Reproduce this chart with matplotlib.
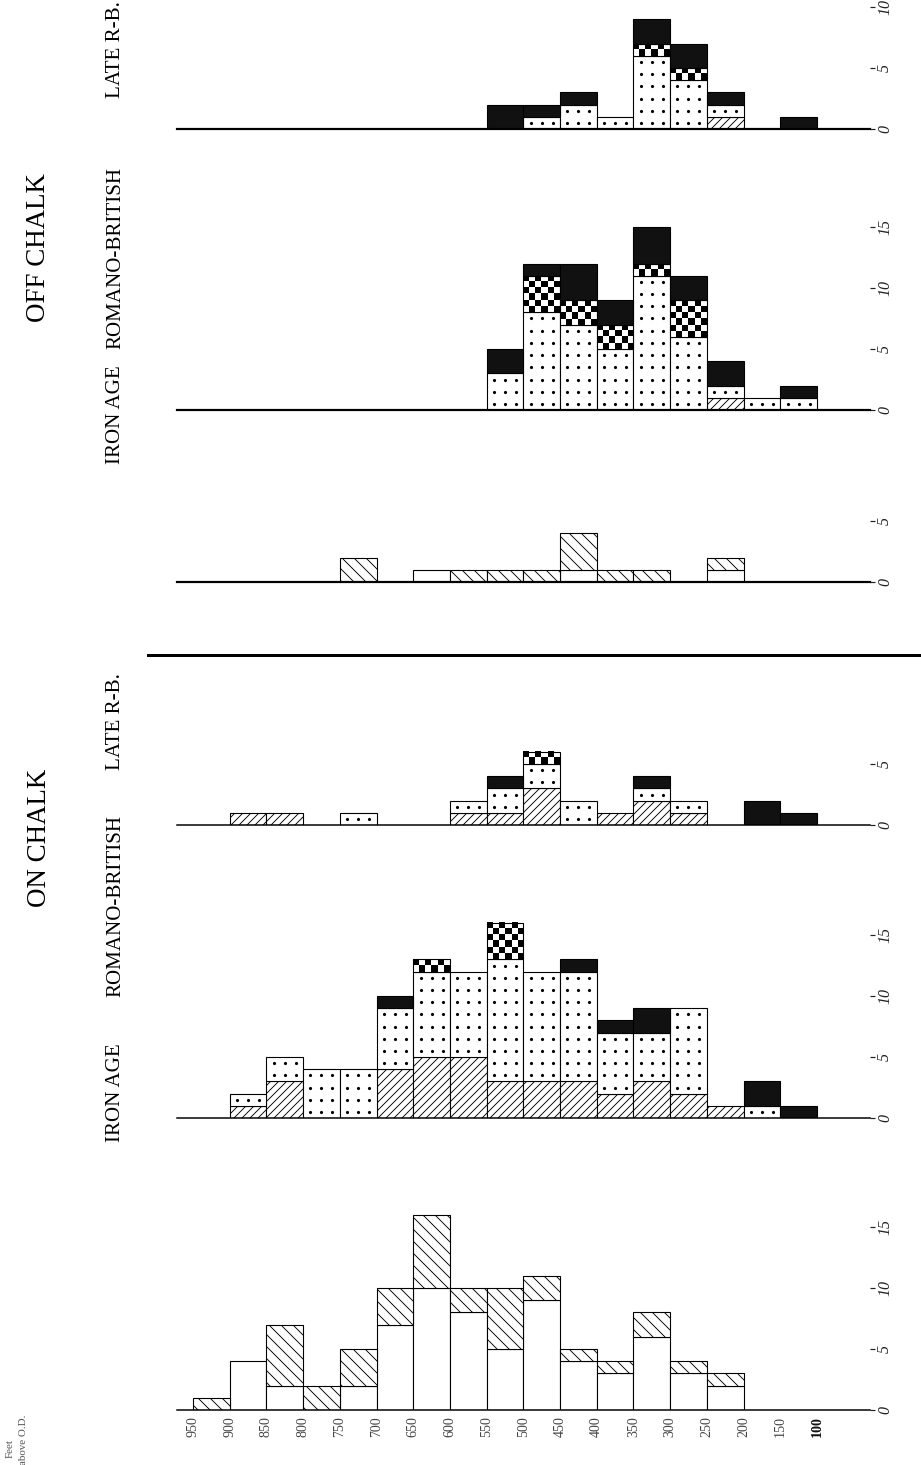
import numpy as np
import matplotlib
matplotlib.use("Agg")
import matplotlib.pyplot as plt
from matplotlib.lines import Line2D

plt.rcParams['font.family'] = ['Liberation Serif', 'DejaVu Serif']
plt.rcParams['hatch.linewidth'] = 0.9

# elevation bin edges (feet above O.D.), 17 bins 950-900 ... 150-100
feet = ['950', '900', '850', '800', '750', '700', '650', '600', '550',
        '500', '450', '400', '350', '300', '250', '200', '150', '100']

# ON CHALK
on_ia_plain = [0, 4, 2, 0, 2, 7, 10, 8, 5, 9, 4, 3, 6, 3, 2, 0, 0]
on_ia_hatch = [1, 0, 5, 2, 3, 3, 6, 2, 5, 2, 1, 1, 2, 1, 1, 0, 0]

on_rb_hatch = [0, 1, 3, 0, 0, 4, 5, 5, 3, 3, 3, 2, 3, 2, 1, 0, 0]
on_rb_dot = [0, 1, 2, 4, 4, 5, 7, 7, 10, 9, 9, 5, 4, 7, 0, 1, 0]
on_rb_check = [0, 0, 0, 0, 0, 0, 1, 0, 3, 0, 0, 0, 0, 0, 0, 0, 0]
on_rb_black = [0, 0, 0, 0, 0, 1, 0, 0, 0, 0, 1, 1, 2, 0, 0, 2, 1]

on_late_hatch = [0, 1, 1, 0, 0, 0, 0, 1, 1, 3, 0, 1, 2, 1, 0, 0, 0]
on_late_dot = [0, 0, 0, 0, 1, 0, 0, 1, 2, 2, 2, 0, 1, 1, 0, 0, 0]
on_late_check = [0, 0, 0, 0, 0, 0, 0, 0, 0, 1, 0, 0, 0, 0, 0, 0, 0]
on_late_black = [0, 0, 0, 0, 0, 0, 0, 0, 1, 0, 0, 0, 1, 0, 0, 2, 1]

# OFF CHALK
off_ia_plain = [0, 0, 0, 0, 0, 0, 1, 0, 0, 0, 1, 0, 0, 0, 1, 0, 0]
off_ia_hatch = [0, 0, 0, 0, 2, 0, 0, 1, 1, 1, 3, 1, 1, 0, 1, 0, 0]

off_rb_hatch = [0, 0, 0, 0, 0, 0, 0, 0, 0, 0, 0, 0, 0, 0, 1, 0, 0]
off_rb_dot = [0, 0, 0, 0, 0, 0, 0, 0, 3, 8, 7, 5, 11, 6, 1, 1, 1]
off_rb_check = [0, 0, 0, 0, 0, 0, 0, 0, 0, 3, 2, 2, 1, 3, 0, 0, 0]
off_rb_black = [0, 0, 0, 0, 0, 0, 0, 0, 2, 1, 3, 2, 3, 2, 2, 0, 1]

off_late_hatch = [0, 0, 0, 0, 0, 0, 0, 0, 0, 0, 0, 0, 0, 0, 1, 0, 0]
off_late_dot = [0, 0, 0, 0, 0, 0, 0, 0, 0, 1, 2, 1, 6, 4, 1, 0, 0]
off_late_check = [0, 0, 0, 0, 0, 0, 0, 0, 0, 0, 0, 0, 1, 1, 0, 0, 0]
off_late_black = [0, 0, 0, 0, 0, 0, 0, 0, 2, 1, 1, 0, 2, 2, 1, 0, 1]

W, H = 921, 1465
DPI = 72
fig = plt.figure(figsize=(W / DPI, H / DPI), dpi=DPI)
fig.patch.set_facecolor('white')

PX = 12.2          # pixels per site
X0, X1 = 177, 870  # baseline extent in pixels
BIN0, BINW = 193, 36.7


def add_panel(base, ymax, ticks, lw=1.5):
    ax = fig.add_axes([X0 / W, (H - base) / H, (X1 - X0) / W, ymax * PX / H])
    ax.patch.set_visible(False)
    for s in ['left', 'right', 'top']:
        ax.spines[s].set_visible(False)
    ax.spines['bottom'].set_linewidth(lw)
    ax.set_xticks([])
    ax.yaxis.tick_right()
    ax.set_yticks(ticks)
    ax.set_yticklabels([str(t) for t in ticks], rotation=90, fontstyle='italic',
                       fontsize=16, va='center')
    ax.tick_params(axis='y', length=5, width=1.2, pad=2, colors='#222')
    ax.set_ylim(0, ymax)
    ax.set_xlim((X0 - BIN0) / BINW, (X1 - BIN0) / BINW)
    return ax


def draw_stack(ax, layers):
    bottom = np.zeros(17)
    for kind, vals in layers:
        vals = np.array(vals, dtype=float)
        idx = np.nonzero(vals)[0]
        b = bottom[idx]
        h = vals[idx]
        if kind == 'plain':
            ax.bar(idx, h, bottom=b, width=1, align='edge', color='white',
                   edgecolor='black', linewidth=1.1, zorder=2)
        elif kind == 'back':
            ax.bar(idx, h, bottom=b, width=1, align='edge', color='white',
                   edgecolor='black', linewidth=1.1, hatch='\\\\', zorder=2)
        elif kind == 'fwd':
            ax.bar(idx, h, bottom=b, width=1, align='edge', color='white',
                   edgecolor='black', linewidth=1.1, hatch='///', zorder=2)
        elif kind == 'dot':
            ax.bar(idx, h, bottom=b, width=1, align='edge', color='white',
                   edgecolor='black', linewidth=1.1, zorder=2)
            xs, ys = [], []
            for i, bb, hh in zip(idx, b, h):
                for k in range(int(hh)):
                    for f in (0.2, 0.5, 0.8):
                        xs.append(i + f)
                        ys.append(bb + k + 0.5)
            ax.scatter(xs, ys, s=10, color='black', linewidths=0, zorder=3)
        elif kind == 'check':
            for i, bb, hh in zip(idx, b, h):
                rows, cols = int(hh * 2), 6
                board = (np.add.outer(np.arange(rows), np.arange(cols)) % 2)
                ax.imshow(board, cmap='gray', interpolation='nearest', aspect='auto',
                          extent=(i, i + 1, bb, bb + hh), zorder=2)
            ax.bar(idx, h, bottom=b, width=1, align='edge', color='none',
                   edgecolor='black', linewidth=1.1, zorder=3)
        elif kind == 'black':
            ax.bar(idx, h, bottom=b, width=1, align='edge', color='#111',
                   edgecolor='black', linewidth=1.1, zorder=2)
        bottom = bottom + vals


# panels: baseline pixel, y max, ticks
ax_off_late = add_panel(129, 10.5, [0, 5, 10], lw=2.2)
draw_stack(ax_off_late, [('fwd', off_late_hatch), ('dot', off_late_dot),
                         ('check', off_late_check), ('black', off_late_black)])

ax_off_rb = add_panel(410, 16.5, [0, 5, 10, 15], lw=2.2)
draw_stack(ax_off_rb, [('fwd', off_rb_hatch), ('dot', off_rb_dot),
                       ('check', off_rb_check), ('black', off_rb_black)])

ax_off_ia = add_panel(582, 6.5, [0, 5], lw=2.2)
draw_stack(ax_off_ia, [('plain', off_ia_plain), ('back', off_ia_hatch)])

ax_on_late = add_panel(825, 7, [0, 5])
draw_stack(ax_on_late, [('fwd', on_late_hatch), ('dot', on_late_dot),
                        ('check', on_late_check), ('black', on_late_black)])

ax_on_rb = add_panel(1118, 17, [0, 5, 10, 15])
draw_stack(ax_on_rb, [('fwd', on_rb_hatch), ('dot', on_rb_dot),
                      ('check', on_rb_check), ('black', on_rb_black)])

ax_on_ia = add_panel(1410, 17, [0, 5, 10, 15])
draw_stack(ax_on_ia, [('plain', on_ia_plain), ('back', on_ia_hatch)])

# keep limits after imshow
for a, ym in [(ax_off_late, 10.5), (ax_off_rb, 16.5), (ax_off_ia, 6.5),
              (ax_on_late, 7), (ax_on_rb, 17), (ax_on_ia, 17)]:
    a.set_xlim((X0 - BIN0) / BINW, (X1 - BIN0) / BINW)
    a.set_ylim(0, ym)

# elevation labels on the bottom panel
ax_on_ia.set_xticks(np.arange(len(feet)))
ax_on_ia.set_xticklabels(feet, rotation=90, fontsize=14, color='#444')
ax_on_ia.tick_params(axis='x', length=0, pad=6)
ax_on_ia.get_xticklabels()[-1].set_fontweight('bold')
ax_on_ia.get_xticklabels()[-1].set_color('#111')

# divider between the two halves
fig.add_artist(Line2D([148 / W, 1.0], [1 - 655 / H, 1 - 655 / H], color='black',
                      linewidth=3))

# headings
def vtext(x, y, s, size, **kw):
    fig.text(x / W, 1 - y / H, s, rotation=90, ha='center', va='center',
             fontsize=size, **kw)

vtext(39, 248, 'OFF CHALK', 27)
vtext(39, 838, 'ON CHALK', 27)
vtext(116, 50, 'LATE R-B.', 21)
vtext(116, 258, 'ROMANO-BRITISH', 21)
vtext(116, 415, 'IRON AGE', 21)
vtext(116, 722, 'LATE R-B.', 21)
vtext(116, 906, 'ROMANO-BRITISH', 21)
vtext(116, 1093, 'IRON AGE', 21)
vtext(10, 1449, 'Feet', 11, color='#555')
vtext(24, 1440, 'above O.D.', 11, color='#555')

fig.savefig('out.png', dpi=DPI, facecolor='white')
